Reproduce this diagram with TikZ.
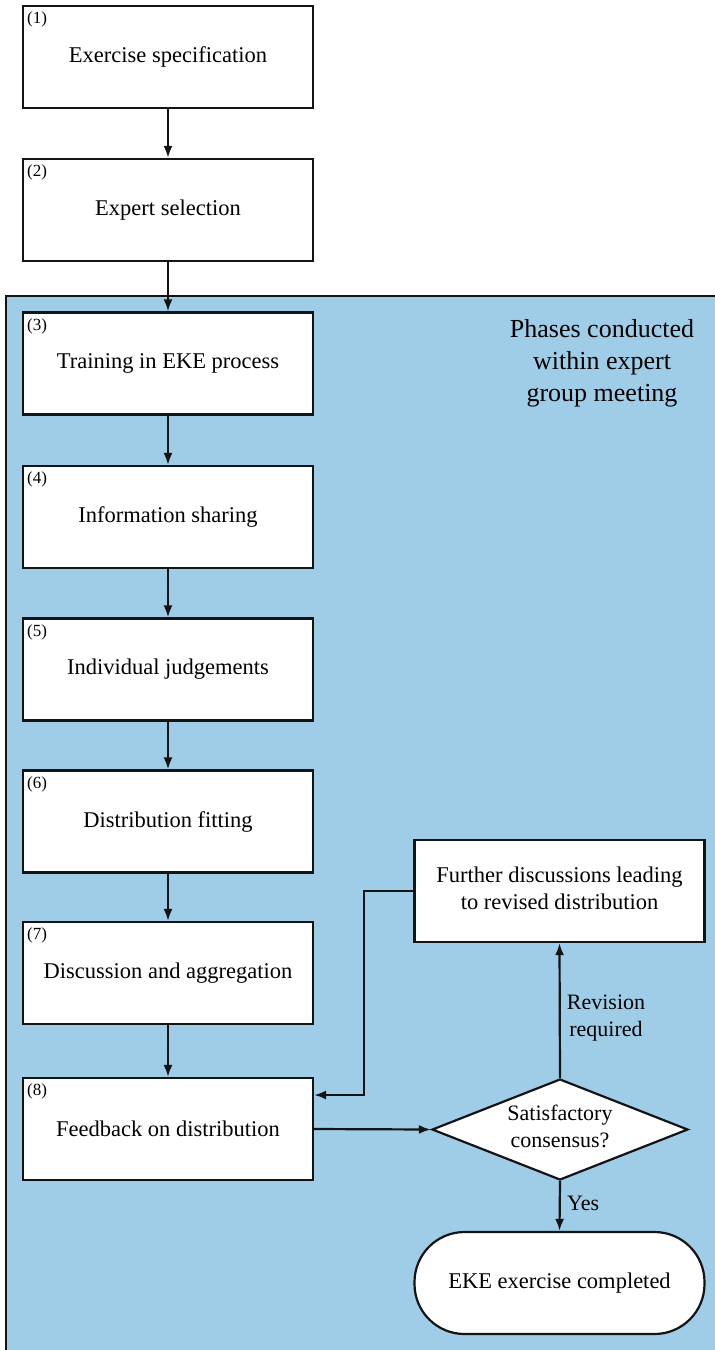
\documentclass[tikz,border=0pt]{standalone}
\usepackage{fontspec}
\setmainfont{Liberation Serif}
\usetikzlibrary{arrows.meta,shapes.geometric,calc}
\definecolor{panelblue}{RGB}{159,205,231}
\definecolor{ink}{RGB}{20,20,20}
\begin{document}
\begin{tikzpicture}[x=1pt,y=-1pt,
  stepbox/.style={draw=ink,line width=2.2pt,fill=white,minimum width=290pt,minimum height=102pt,inner sep=0pt,font=\fontsize{22.5}{27}\selectfont,align=center},
  plainbox/.style={draw=ink,line width=2.2pt,fill=white,minimum width=290pt,minimum height=102pt,inner sep=0pt},
  numlbl/.style={anchor=north west,inner sep=0pt,font=\fontsize{17}{20}\selectfont},
  conn/.style={draw=ink,line width=2.2pt,-{Latex[length=12pt,width=9pt]}},
  decision/.style={diamond,draw=ink,line width=2.2pt,fill=white,minimum width=256pt,minimum height=101pt,inner sep=0pt},
  termbox/.style={draw=ink,line width=2.2pt,fill=white,rounded corners=50pt,minimum width=290pt,minimum height=102pt,inner sep=0pt,font=\fontsize{22.5}{27}\selectfont},
  edgelbl/.style={font=\fontsize{22}{27}\selectfont,align=center,inner sep=0pt}]
\useasboundingbox (0,0) rectangle (715,1350);
\begin{scope}
\clip (0,0) rectangle (715,1350);
\draw[fill=panelblue,draw=ink,line width=2.4pt] (6,1400) -- (6,296) -- (760,296) -- (760,1400);
\end{scope}
\node[font=\fontsize{26}{32}\selectfont,align=center,inner sep=0pt] (title) at (602,363) {Phases conducted\\within expert\\group meeting};

\node[stepbox] (b1) at (168,57) {Exercise specification};
\node[stepbox] (b2) at (168,210) {Expert selection};
\node[stepbox] (b3) at (168,363.5) {Training in EKE process};
\node[stepbox] (b4) at (168,517) {Information sharing};
\node[stepbox] (b5) at (168,669.5) {Individual judgements};
\node[stepbox] (b6) at (168,821.5) {Distribution fitting};
\node[stepbox] (b7) at (168,973) {Discussion and aggregation};
\node[stepbox] (b8) at (168,1129) {Feedback on distribution};

\foreach \i in {1,...,8}{
  \node[numlbl] (n\i) at ($(b\i.north west)+(5,7)$) {(\i)};
}

\node[plainbox] (fd) at (559.5,891) {};
\node[edgelbl,font=\fontsize{22.5}{27}\selectfont] (fdt) at ($(fd.center)+(0,-3)$) {Further discussions leading\\to revised distribution};
\node[decision] (dc) at (560,1129.5) {};
\node[edgelbl] (dct) at ($(dc.center)+(0,-3)$) {Satisfactory\\consensus?};
\node[termbox] (tm) at (559.5,1283) {EKE exercise completed};

\draw[conn] (b1) -- (b2);
\draw[conn] (b2) -- (b3);
\draw[conn] (b3) -- (b4);
\draw[conn] (b4) -- (b5);
\draw[conn] (b5) -- (b6);
\draw[conn] (b6) -- (b7);
\draw[conn] (b7) -- (b8);
\draw[conn] (b8.east) -- (dc.west);
\draw[conn] (dc.north) -- (fd.south);
\draw[conn] (dc.south) -- (tm.north);
\draw[conn] (fd.west) -- (364,891) -- (364,1095) -- (b8.east |- 0,1095);

\node[edgelbl] (rev) at (606,1018) {Revision\\required};
\node[edgelbl,anchor=west] (yes) at (567,1203) {Yes};
\end{tikzpicture}
\end{document}
